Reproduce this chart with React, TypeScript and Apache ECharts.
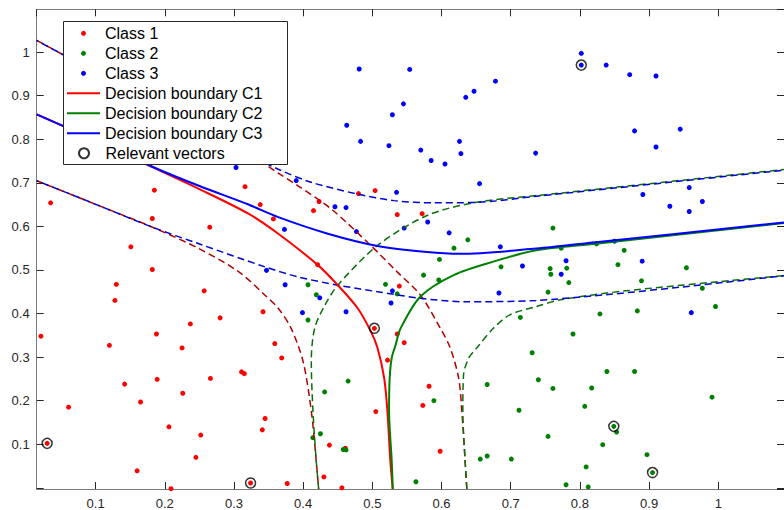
import React, { useEffect, useRef } from 'react';
import * as echarts from 'echarts';

// ---- Data ----
const class1Points: [number, number][] = [
  [0.035, 0.654], [0.185, 0.683], [0.316, 0.691], [0.338, 0.650], [0.357, 0.617],
  [0.182, 0.618], [0.265, 0.598], [0.151, 0.553], [0.182, 0.501], [0.130, 0.467],
  [0.128, 0.430], [0.257, 0.452], [0.237, 0.376], [0.280, 0.390], [0.342, 0.404],
  [0.188, 0.353], [0.021, 0.348], [0.120, 0.327], [0.225, 0.321], [0.359, 0.331],
  [0.369, 0.298], [0.142, 0.238], [0.189, 0.249], [0.266, 0.251], [0.311, 0.266],
  [0.315, 0.262], [0.061, 0.185], [0.165, 0.197], [0.226, 0.217], [0.345, 0.159],
  [0.341, 0.133], [0.206, 0.140], [0.252, 0.121], [0.030, 0.102], [0.245, 0.070],
  [0.160, 0.039], [0.324, 0.011], [0.377, 0.010], [0.209, -0.002], [0.480, 0.675],
  [0.504, 0.682], [0.423, 0.657], [0.415, 0.636], [0.536, 0.627], [0.572, 0.629],
  [0.421, 0.512], [0.539, 0.463], [0.503, 0.366], [0.536, 0.353], [0.546, 0.333],
  [0.522, 0.293], [0.582, 0.233], [0.573, 0.189], [0.505, 0.175], [0.438, 0.098],
  [0.461, 0.091], [0.598, 0.084], [0.430, 0.025], [0.456, 0.000],
];

const class2Points: [number, number][] = [
  [0.638, 0.569], [0.618, 0.550], [0.597, 0.524], [0.686, 0.507], [0.574, 0.488],
  [0.596, 0.477], [0.407, 0.466], [0.519, 0.467], [0.536, 0.445], [0.419, 0.443],
  [0.407, 0.385], [0.714, 0.391], [0.731, 0.310], [0.465, 0.245], [0.431, 0.220],
  [0.589, 0.200], [0.666, 0.237], [0.712, 0.178], [0.414, 0.115], [0.425, 0.124],
  [0.458, 0.088], [0.462, 0.087], [0.656, 0.066], [0.666, 0.073], [0.701, 0.066],
  [0.563, 0.014], [0.761, 0.596], [0.773, 0.550], [0.824, 0.560], [0.864, 0.545],
  [0.757, 0.503], [0.781, 0.504], [0.758, 0.490], [0.855, 0.512], [0.954, 0.505],
  [0.784, 0.471], [0.889, 0.475], [0.754, 0.449], [0.977, 0.458], [0.996, 0.416],
  [0.829, 0.399], [0.883, 0.406], [0.790, 0.353], [0.839, 0.267], [0.879, 0.267],
  [0.740, 0.248], [0.761, 0.228], [0.817, 0.229], [0.991, 0.208], [0.807, 0.187],
  [0.849, 0.141], [0.853, 0.128], [0.754, 0.118], [0.833, 0.099], [0.897, 0.076],
  [0.809, 0.048], [0.905, 0.035], [0.780, 0.007], [0.812, 0.002],
];

const class3Points: [number, number][] = [
  [0.303, 0.735], [0.373, 0.593], [0.347, 0.499], [0.374, 0.466], [0.390, 0.705],
  [0.481, 0.961], [0.554, 0.960], [0.678, 0.933], [0.647, 0.910], [0.635, 0.896],
  [0.545, 0.881], [0.529, 0.856], [0.463, 0.832], [0.483, 0.795], [0.524, 0.785],
  [0.570, 0.775], [0.626, 0.795], [0.628, 0.767], [0.585, 0.751], [0.605, 0.743],
  [0.736, 0.768], [0.535, 0.678], [0.655, 0.698], [0.446, 0.645], [0.462, 0.643],
  [0.580, 0.610], [0.546, 0.596], [0.477, 0.588], [0.611, 0.585], [0.685, 0.553],
  [0.717, 0.509], [0.529, 0.452], [0.424, 0.436], [0.683, 0.447], [0.527, 0.424],
  [0.399, 0.402], [0.462, 0.404], [0.802, 0.997], [0.802, 0.970], [0.838, 0.970],
  [0.872, 0.948], [0.910, 0.945], [0.879, 0.819], [0.945, 0.823], [0.910, 0.782],
  [0.891, 0.673], [0.958, 0.689], [0.930, 0.646], [0.977, 0.657], [0.958, 0.634],
  [0.850, 0.566], [0.780, 0.521], [0.773, 0.490], [0.890, 0.520], [0.961, 0.402],
];

const relevantVectors: [number, number][] = [
  [0.030, 0.102], [0.324, 0.011], [0.503, 0.366], [0.802, 0.970], [0.849, 0.141], [0.905, 0.035],
];

const boundaryC1: [number, number][] = [
  [0.0149, 0.857], [0.1057, 0.793], [0.1846, 0.734], [0.2492, 0.686], [0.3209, 0.629],
  [0.364, 0.583], [0.4214, 0.511], [0.4501, 0.465], [0.4788, 0.412], [0.4978, 0.359],
  [0.5075, 0.321], [0.5171, 0.252], [0.5218, 0.176], [0.526, 0.062], [0.5295, -0.0027],
];

const boundaryC2: [number, number][] = [
  [0.5295, -0.0027], [0.528, 0.062], [0.5242, 0.176], [0.525, 0.250], [0.528, 0.298],
  [0.5337, 0.328], [0.5409, 0.366], [0.5696, 0.439], [0.6175, 0.488], [0.6749, 0.519],
  [0.737, 0.545], [0.8231, 0.560], [1.095, 0.6075],
];

const boundaryC3: [number, number][] = [
  [0.0149, 0.857], [0.1057, 0.793], [0.1846, 0.735], [0.2492, 0.693], [0.3209, 0.650],
  [0.364, 0.621], [0.4357, 0.583], [0.5075, 0.555], [0.5792, 0.541], [0.627, 0.537],
  [0.737, 0.549], [0.8231, 0.5635], [1.095, 0.609],
];

const marginC1Outer: [number, number][] = [
  [0.0149, 1.0265], [0.1774, 0.887], [0.3353, 0.752], [0.364, 0.722], [0.3926, 0.693],
  [0.4405, 0.640], [0.4978, 0.556], [0.5362, 0.495], [0.5696, 0.442], [0.5983, 0.366],
  [0.6126, 0.321], [0.6247, 0.252], [0.6294, 0.176], [0.6341, 0.062], [0.6366, -0.0027],
];

const marginC1Inner: [number, number][] = [
  [0.0149, 0.7047], [0.1057, 0.647], [0.1822, 0.598], [0.2492, 0.549], [0.3066, 0.496],
  [0.3449, 0.442], [0.364, 0.412], [0.3826, 0.366], [0.3999, 0.290], [0.4118, 0.176],
  [0.4189, 0.062], [0.4224, -0.0027],
];

const marginC2Outer: [number, number][] = [
  [0.4224, -0.0027], [0.4189, 0.062], [0.4142, 0.176], [0.4118, 0.290], [0.4166, 0.366],
  [0.4314, 0.419], [0.4501, 0.465], [0.5075, 0.556], [0.5792, 0.625], [0.6509, 0.6554],
  [0.737, 0.6705], [1.095, 0.7304],
];

const marginC2Inner: [number, number][] = [
  [0.6366, -0.0027], [0.6341, 0.062], [0.6308, 0.176], [0.6319, 0.260], [0.6395, 0.298],
  [0.6509, 0.321], [0.6749, 0.366], [0.6987, 0.397], [0.737, 0.416], [0.7704, 0.431],
  [0.8661, 0.452], [1.095, 0.4869],
];

const marginC3Outer: [number, number][] = [
  [0.0149, 1.0265], [0.1774, 0.887], [0.3209, 0.766], [0.364, 0.731], [0.4118, 0.701],
  [0.4788, 0.674], [0.5314, 0.659], [0.5888, 0.654], [0.6509, 0.655], [0.737, 0.669],
  [1.095, 0.7288],
];

const marginC3Inner: [number, number][] = [
  [0.0149, 0.7047], [0.1057, 0.647], [0.1822, 0.598], [0.2492, 0.560], [0.3449, 0.507],
  [0.3926, 0.484], [0.4501, 0.465], [0.5075, 0.450], [0.5696, 0.435], [0.6318, 0.427],
  [0.737, 0.430], [1.095, 0.4869],
];

const classNames = ['Class 1', 'Class 2', 'Class 3'];
const boundaryNames = ['Decision boundary C1', 'Decision boundary C2', 'Decision boundary C3'];
const vectorName = 'Relevant vectors';

const X_RANGE = [0.0149, 1.095];
const Y_RANGE = [-0.0027, 1.098];

const FONT = 'Liberation Sans, Arial, Helvetica, sans-serif';
const AXIS_COLOR = '#7a7a7a';
const TEXT_COLOR = '#262626';

const tickFormatter = (v: number) => {
  if (v < 0.05 || v > 1.05) return '';
  return String(parseFloat(v.toFixed(1)));
};

function makeXAxis(position: 'bottom' | 'top') {
  return {
    type: 'value',
    position,
    min: X_RANGE[0],
    max: X_RANGE[1],
    splitNumber: 10,
    splitLine: { show: false },
    axisLine: { show: true, onZero: false, lineStyle: { color: AXIS_COLOR, width: 1 } },
    axisTick: { show: true, inside: true, length: 7, lineStyle: { color: TEXT_COLOR, width: 1 } },
    axisLabel: {
      show: position === 'bottom',
      margin: 8,
      color: TEXT_COLOR,
      fontSize: 13,
      fontFamily: FONT,
      showMinLabel: false,
      showMaxLabel: false,
      formatter: tickFormatter,
    },
  };
}

function makeYAxis(position: 'left' | 'right') {
  return {
    type: 'value',
    position,
    min: Y_RANGE[0],
    max: Y_RANGE[1],
    splitNumber: 10,
    splitLine: { show: false },
    axisLine: { show: true, onZero: false, lineStyle: { color: AXIS_COLOR, width: 1 } },
    axisTick: { show: true, inside: true, length: 7, lineStyle: { color: TEXT_COLOR, width: 1 } },
    axisLabel: {
      show: position === 'left',
      margin: 7,
      color: TEXT_COLOR,
      fontSize: 13,
      fontFamily: FONT,
      showMinLabel: false,
      showMaxLabel: false,
      formatter: tickFormatter,
    },
  };
}

function solidLine(name: string, data: [number, number][], color: string) {
  return {
    name,
    type: 'line',
    data,
    symbol: 'none',
    smooth: 0.3,
    silent: true,
    z: 3,
    lineStyle: { color, width: 2 },
    itemStyle: { color },
  };
}

function dashedLine(name: string, data: [number, number][], color: string, offset: number) {
  return {
    name,
    type: 'line',
    data,
    symbol: 'none',
    smooth: 0.3,
    silent: true,
    z: 3,
    lineStyle: { color, width: 1.5, type: [7, 4], dashOffset: offset },
    itemStyle: { color },
  };
}

function scatter(name: string, data: [number, number][], color: string) {
  return {
    name,
    type: 'scatter',
    data,
    symbol: 'circle',
    symbolSize: 5,
    silent: true,
    z: 2,
    itemStyle: { color, opacity: 1 },
  };
}

const legendBase = {
  orient: 'vertical',
  itemWidth: 33,
  itemGap: 0,
  padding: 0,
  selectedMode: false,
  z: 6,
  textStyle: { fontSize: 16, lineHeight: 20, color: '#000', fontFamily: FONT },
};

export default function App() {
  const ref = useRef<HTMLDivElement>(null);
  useEffect(() => {
    if (!ref.current) return;
    const chart = echarts.init(ref.current, undefined, { renderer: 'svg' });
    const option = {
      animation: false,
      backgroundColor: '#ffffff',
      grid: { left: 36.7, right: -5.5, top: 9.3, bottom: 18.3, containLabel: false },
      xAxis: [makeXAxis('bottom'), makeXAxis('top')],
      yAxis: [makeYAxis('left'), makeYAxis('right')],
      legend: [
        { ...legendBase, left: 81, top: 23.3, itemHeight: 5, data: classNames },
        {
          ...legendBase,
          left: 67,
          top: 83.3,
          itemHeight: 2,
          data: boundaryNames.map((n) => ({ name: n, icon: 'rect' })),
        },
        { ...legendBase, left: 78, top: 143.3, itemHeight: 10, data: [vectorName] },
      ],
      graphic: [
        {
          type: 'rect',
          z: 5,
          shape: { x: 63.5, y: 21.5, width: 224, height: 143 },
          style: { fill: '#ffffff', stroke: '#262626', lineWidth: 1 },
        },
      ],
      series: [
        scatter(classNames[0], class1Points, '#ff0000'),
        scatter(classNames[1], class2Points, '#008000'),
        scatter(classNames[2], class3Points, '#0000ff'),
        dashedLine('C1 margin outer', marginC1Outer, '#b00000', 0),
        dashedLine('C1 margin inner', marginC1Inner, '#b00000', 0),
        dashedLine('C2 margin outer', marginC2Outer, '#0a6e0a', 0),
        dashedLine('C2 margin inner', marginC2Inner, '#0a6e0a', 0),
        dashedLine('C3 margin outer', marginC3Outer, '#0000d0', 5),
        dashedLine('C3 margin inner', marginC3Inner, '#0000d0', 5),
        solidLine(boundaryNames[0], boundaryC1, '#ff0000'),
        solidLine(boundaryNames[1], boundaryC2, '#008000'),
        solidLine(boundaryNames[2], boundaryC3, '#0000ff'),
        {
          name: vectorName,
          type: 'scatter',
          data: relevantVectors,
          symbol: 'circle',
          symbolSize: 10,
          silent: true,
          z: 4,
          itemStyle: { color: 'rgba(0,0,0,0)', borderColor: '#000000', borderWidth: 1.5 },
        },
      ],
    };
    chart.setOption(option as any);
    return () => chart.dispose();
  }, []);
  return (
    <div
      ref={ref}
      style={{ position: 'absolute', left: 0, top: 0, width: 784, height: 510, background: '#fff' }}
    />
  );
}
